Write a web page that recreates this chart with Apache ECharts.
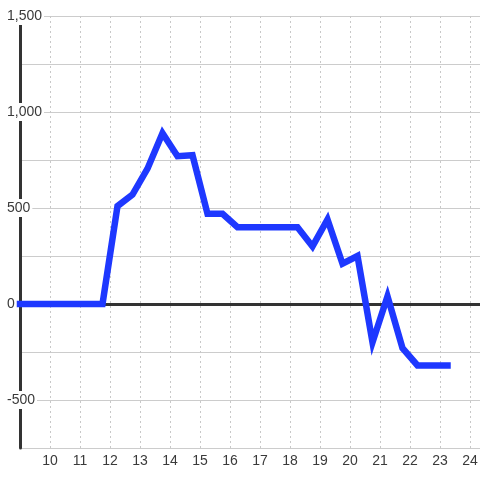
<!DOCTYPE html>
<html>
<head>
<meta charset="utf-8">
<script src="https://cdn.jsdelivr.net/npm/echarts@6/dist/echarts.min.js"></script>
<style>html,body{margin:0;padding:0;background:#fff;}#c{width:480px;height:480px;}</style>
</head>
<body>
<div id="c"></div>
<script>
const xValues = [9, 11.75, 12.25, 12.75, 13.25, 13.75, 14.25, 14.75, 15.25, 15.75, 16.25, 18.25, 18.75, 19.25, 19.75, 20.25, 20.75, 21.25, 21.75, 22.25, 23.25];
const yValues = [0, 0, 510, 570, 705, 890, 770, 775, 470, 470, 400, 400, 300, 440, 210, 250, -200, 40, -230, -320, -320];
const xTickLabels = [10, 11, 12, 13, 14, 15, 16, 17, 18, 19, 20, 21, 22, 23, 24];
const yTickLabels = [-500, 0, 500, 1000, 1500];

const font = 'Liberation Sans, Arial, sans-serif';
function fmt(v) {
  const s = Math.abs(v).toString().replace(/\B(?=(\d{3})+(?!\d))/g, ',');
  return (v < 0 ? '-' : '') + s;
}
const xMax = 9 + 460 / 30;
const chart = echarts.init(document.getElementById('c'));
chart.setOption({
  backgroundColor: '#ffffff',
  animation: false,
  grid: { left: 20, right: 0, top: 16, bottom: 32, containLabel: false, outerBoundsMode: 'none' },
  xAxis: [{
    type: 'value', min: 9, max: xMax, interval: 1,
    axisLine: { show: false, onZero: false },
    axisTick: { show: false },
    axisLabel: {
      color: '#3a3a3a', fontSize: 14, fontFamily: font, margin: 6,
      formatter: v => xTickLabels.indexOf(v) >= 0 ? String(v) : ''
    },
    splitLine: { show: true, lineStyle: { color: '#c8c8c8', width: 1, type: [2, 3] } }
  }, {
    type: 'value', min: 9, max: xMax, position: 'bottom',
    axisLine: { show: true, onZero: true, lineStyle: { color: '#333', width: 3 } },
    axisTick: { show: false }, axisLabel: { show: false }, splitLine: { show: false }
  }],
  yAxis: {
    type: 'value', min: -750, max: 1500, interval: 250,
    axisLine: { show: true, lineStyle: { color: '#333', width: 3 } },
    axisTick: { show: false },
    axisLabel: {
      align: 'left', margin: 13, fontSize: 14, fontFamily: font, color: '#3a3a3a',
      backgroundColor: '#ffffff', padding: [1, 2, 1, 0], lineHeight: 16,
      formatter: v => yTickLabels.indexOf(v) >= 0 ? fmt(v) : ''
    },
    splitLine: { show: true, lineStyle: { color: '#cccccc', width: 1 } }
  },
  series: [{
    type: 'line',
    data: xValues.map((x, i) => [x, yValues[i]]),
    symbol: 'none',
    clip: false,
    lineStyle: { color: '#1e38ff', width: 6.5, cap: 'square', join: 'miter' },
    z: 5
  }]
});
</script>
</body>
</html>
